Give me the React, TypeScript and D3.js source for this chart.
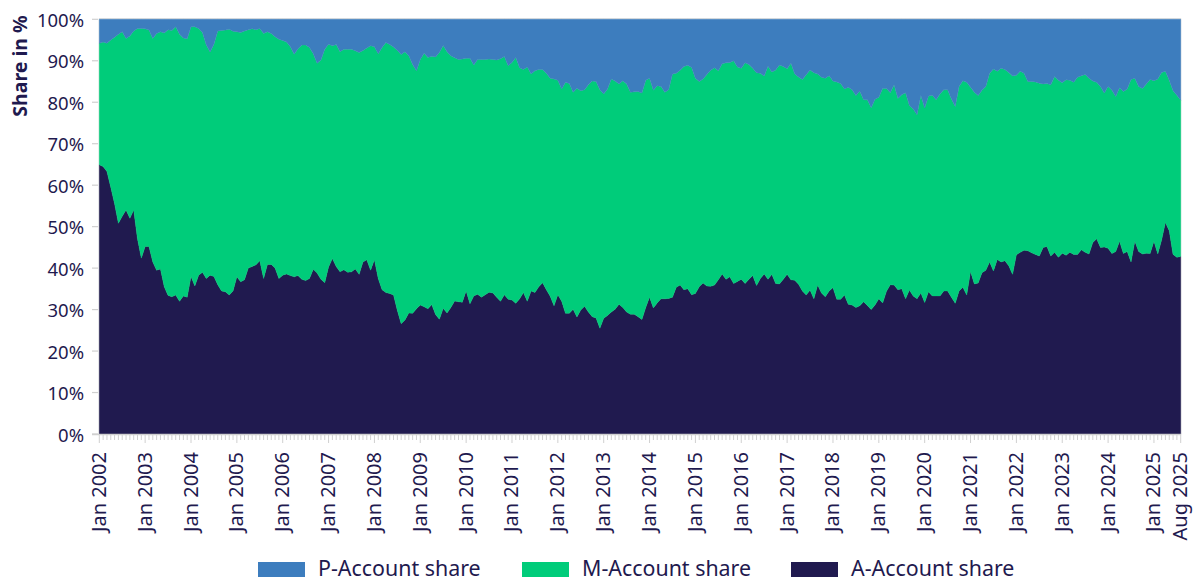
import React from 'react';
import * as d3 from 'd3';

// A-Account share (%), monthly Jan 2002 – Aug 2025
const aShare: number[] = [
  // 2002
  64.9, 64.5, 63.3, 59.5, 55.5, 50.8, 52.5, 54, 52, 54, 47, 42.4,
  // 2003
  45.2, 45.2, 41.5, 39.5, 39.8, 35.5, 33.4, 33.1, 33.5, 32, 33.3, 33,
  // 2004
  38, 35.7, 38.3, 39, 37.5, 38.3, 38, 36, 34.5, 34.3, 33.5, 34.5,
  // 2005
  37.9, 36.7, 37.2, 40, 40.4, 40.8, 41.8, 37.5, 40.9, 40.9, 40, 37.5,
  // 2006
  38.3, 38.6, 38.2, 37.9, 38.2, 37.3, 37, 37.5, 39.7, 38.8, 37.3, 36.5,
  // 2007
  40.3, 42.3, 40.4, 39.1, 39.6, 39, 39.1, 39.8, 38.5, 41.5, 42, 39.5,
  // 2008
  42, 37.5, 34.8, 34.1, 33.9, 33.5, 29.8, 26.6, 27.5, 29.2, 29.1, 30.2,
  // 2009
  31.1, 30.7, 30.2, 31.2, 28.8, 27.7, 30.3, 29.2, 30.5, 32.1, 31.9, 31.8,
  // 2010
  34.5, 31.4, 33.3, 33.7, 33, 33.6, 34.2, 34, 33, 32, 33.6, 32.5,
  // 2011
  32.3, 31.5, 32.6, 34.1, 32, 34.5, 34.1, 35.5, 36.5, 34.8, 33.2, 30.9,
  // 2012
  33.6, 32, 29.1, 29.1, 30.1, 28.2, 29.9, 30.8, 29.4, 28.3, 28, 25.5,
  // 2013
  27.9, 28.6, 29.4, 30.1, 31.3, 30.5, 29.4, 28.9, 28.9, 28.3, 27.6, 30.5,
  // 2014
  33, 30.4, 31.6, 32.6, 32.6, 32.7, 33, 35.4, 35.9, 34.8, 35, 33.6,
  // 2015
  33.9, 35.5, 36.4, 35.7, 35.6, 35.9, 37.2, 38.6, 37.3, 37.9, 36.3, 36.8,
  // 2016
  37.3, 36.3, 37.3, 38.2, 35.8, 37.5, 38.6, 37.3, 38.5, 36.3, 36.2, 37.3,
  // 2017
  38.5, 37.2, 37.1, 36.1, 34.5, 33.5, 34.7, 32.6, 35.9, 34, 33.1, 34.5,
  // 2018
  35.3, 32.5, 32.5, 33.5, 31.3, 31.1, 30.5, 30.9, 31.9, 31, 30, 31.1,
  // 2019
  32.6, 31.6, 34.4, 36, 35.9, 34.8, 35, 32.6, 34.7, 33.3, 32.6, 34,
  // 2020
  31.7, 34.3, 33.3, 33.3, 33.3, 34.5, 34.5, 33, 31.5, 34.5, 35.4, 33.5,
  // 2021
  39.2, 36.2, 36.4, 38.9, 39.5, 41.5, 39.3, 42.1, 41.5, 41.8, 40.6, 38.5,
  // 2022
  43.2, 43.8, 44.3, 44.2, 43.7, 43.3, 42.9, 45, 45.2, 42.9, 43.8, 42.6,
  // 2023
  43.6, 43.1, 43.8, 43.3, 43.3, 44.4, 43.8, 43.4, 46.2, 47.1, 45, 45.1,
  // 2024
  44.8, 43.5, 44, 46.5, 43.5, 44, 41.5, 46.5, 44, 43.4, 43.6, 43.5,
  // 2025 (Jan – Aug)
  46.5, 43.4, 46.8, 51, 49, 43.3, 42.6, 42.8,
];

// P-Account share (%), monthly Jan 2002 – Aug 2025
const pShare: number[] = [
  // 2002
  5.8, 5.5, 5.8, 5, 4.3, 3.6, 3, 4.6, 4, 2.8, 2.2, 2.2,
  // 2003
  2.3, 2.6, 4.6, 3.4, 3, 3.3, 2.5, 2.7, 1.8, 3.6, 4.5, 4.7,
  // 2004
  1.8, 1.8, 2.2, 3.2, 6.2, 7.9, 6, 2.8, 2.7, 2.6, 2.4, 2.9,
  // 2005
  3, 3.2, 2.8, 2.5, 2.3, 2.5, 2.2, 3.4, 3, 3.4, 4.2, 4.8,
  // 2006
  5.1, 5.5, 6.6, 8.4, 7.1, 6.2, 6.2, 6.8, 8.3, 10.6, 9.8, 7.2,
  // 2007
  6, 6.4, 6.1, 7.8, 7.2, 7.2, 7.2, 7.6, 8, 7.5, 6.9, 6.4,
  // 2008
  6.6, 8.3, 6.8, 5.6, 6.1, 6.7, 7.5, 8.5, 7.8, 8.8, 10.9, 12.4,
  // 2009
  9.7, 8.2, 9.2, 8.9, 9.1, 8, 6.3, 7.8, 8.8, 9.3, 9.7, 9.6,
  // 2010
  9.4, 9.4, 11, 9.7, 9.7, 9.7, 9.6, 9.7, 9.8, 9.5, 9, 11.2,
  // 2011
  10.4, 9.2, 11.7, 12.1, 11.5, 13.2, 12.4, 12.1, 12.1, 13, 14.2, 14.4,
  // 2012
  14.7, 16.8, 15.2, 15.5, 17.6, 16.6, 17.2, 17, 15.8, 14.9, 15, 17,
  // 2013
  18, 16.8, 14.4, 14.9, 15.6, 14.8, 15.6, 17.6, 17.5, 17.4, 17.8, 14.7,
  // 2014
  14.2, 17.1, 16, 16.2, 17.6, 17, 13.2, 13, 12.3, 11.4, 11.1, 11.6,
  // 2015
  14.2, 15, 14.4, 13.3, 12.3, 11.7, 12.4, 10.7, 10.5, 10.4, 10, 11.5,
  // 2016
  11.8, 10.5, 10.9, 11.8, 12.9, 13, 13.7, 11.3, 12.7, 12.2, 11, 11.4,
  // 2017
  11.9, 10.6, 13.2, 13.9, 14.5, 13.4, 12.2, 12.9, 13.2, 14, 14.2, 13.6,
  // 2018
  14.9, 15.1, 15.5, 16.8, 16.4, 17, 18.4, 17.3, 19.4, 19.4, 21.3, 19.3,
  // 2019
  18.8, 16.7, 16.7, 17.7, 15.8, 19.1, 18.2, 17.7, 20.8, 21.6, 23, 18.4,
  // 2020
  21.4, 18.5, 18.3, 19.4, 18, 17, 17, 19.2, 21, 16.2, 14.8, 15.2,
  // 2021
  16.4, 17.6, 18.4, 17.1, 16.2, 13, 12, 12.5, 11.8, 12.1, 12.8, 13.7,
  // 2022
  13.5, 12.5, 13, 15, 15, 15.1, 15.4, 15.6, 15.5, 15.8, 13.8, 14.7,
  // 2023
  15.3, 14.6, 14.7, 15.2, 14, 13.6, 13.3, 14.2, 14.9, 15.2, 16.2, 17.8,
  // 2024
  16.2, 17.1, 18.6, 16.5, 17.4, 16.8, 14.5, 14.2, 16.2, 16.7, 15.6, 14.5,
  // 2025 (Jan – Aug)
  14.8, 14.4, 12.8, 12.5, 14.7, 17.2, 18.3, 19.5,
];

// Monthly categories
const months: Date[] = d3.utcMonths(new Date(Date.UTC(2002, 0, 1)), new Date(Date.UTC(2025, 8, 1)));

const xTickLabels: string[] = [
  'Jan 2002', 'Jan 2003', 'Jan 2004', 'Jan 2005', 'Jan 2006', 'Jan 2007', 'Jan 2008',
  'Jan 2009', 'Jan 2010', 'Jan 2011', 'Jan 2012', 'Jan 2013', 'Jan 2014', 'Jan 2015',
  'Jan 2016', 'Jan 2017', 'Jan 2018', 'Jan 2019', 'Jan 2020', 'Jan 2021', 'Jan 2022',
  'Jan 2023', 'Jan 2024', 'Jan 2025', 'Aug 2025',
];
const yTicks: number[] = [0, 10, 20, 30, 40, 50, 60, 70, 80, 90, 100];

const seriesKeys = ['a', 'm', 'p'];
const seriesNames: Record<string, string> = { a: 'A-Account share', m: 'M-Account share', p: 'P-Account share' };
const seriesColors: Record<string, string> = { a: '#201a4f', m: '#00cc7a', p: '#3d7dbe' };
const legendOrder = ['p', 'm', 'a'];

const TEXT = '#1f1a4f';
const FONT = '"Noto Sans", "Open Sans", sans-serif';

export default function App() {
  const W = 1194;
  const H = 582;
  const left = 99.3;
  const right = 1180.7;
  const top = 19.3;
  const bottom = 434;

  const fmt = d3.utcFormat('%b %Y');
  const rows = months.map((d, i) => ({
    date: d,
    label: fmt(d),
    a: aShare[i],
    p: pShare[i],
    m: 100 - aShare[i] - pShare[i],
  }));

  const x = d3.scaleLinear().domain([0, rows.length - 1]).range([left, right]);
  const y = d3.scaleLinear().domain([0, 100]).range([bottom, top]);

  const stacked = d3.stack<any>().keys(seriesKeys)(rows);
  const area = d3
    .area<any>()
    .x((_d, i) => x(i))
    .y0((d) => y(d[0]))
    .y1((d) => y(d[1]));

  const labelIndex = new Map(rows.map((r, i) => [r.label, i]));
  const legendX: Record<string, number> = { p: 258, m: 522, a: 791 };

  return (
    <svg
      width={W}
      height={H}
      style={{ position: 'absolute', left: 0, top: 0, background: '#fff' }}
      fontFamily={FONT}
    >
      <rect x={left} y={top - 0.5} width={right - left} height={bottom - top + 0.5} fill="none" stroke="#d4d4d4" strokeWidth={1} />
      {stacked.map((s) => (
        <path key={s.key} d={area(s as any) || ''} fill={seriesColors[s.key]} stroke={seriesColors[s.key]} strokeWidth={0.4} />
      ))}

      {/* y axis ticks & labels */}
      {yTicks.map((t) => (
        <g key={t}>
          <line x1={92} x2={98} y1={y(t)} y2={y(t)} stroke="#d0d0d0" strokeWidth={1.2} />
          <text x={84} y={y(t)} textAnchor="end" dominantBaseline="central" fontSize={18.5} fill={TEXT}>
            {t}%
          </text>
        </g>
      ))}
      <text
        transform={`translate(19,66) rotate(-90)`}
        textAnchor="middle"
        dominantBaseline="central"
        fontSize={19.5}
        fontWeight="bold"
        fill={TEXT}
      >
        Share in %
      </text>

      {/* x axis */}
      <line x1={92} x2={right + 0.5} y1={434.5} y2={434.5} stroke="#d0d0d0" strokeWidth={1.5} />
      {rows.map((r, i) => {
        const major = r.date.getUTCMonth() === 0 || i === rows.length - 1;
        return (
          <line
            key={i}
            x1={x(i)}
            x2={x(i)}
            y1={435}
            y2={major ? 443 : 440}
            stroke="#d0d0d0"
            strokeWidth={1}
          />
        );
      })}
      {xTickLabels.map((lab) => {
        const i = labelIndex.get(lab) ?? 0;
        return (
          <text
            key={lab}
            transform={`translate(${x(i) - 1},452) rotate(-90)`}
            textAnchor="end"
            dominantBaseline="central"
            fontSize={20}
            fill={TEXT}
          >
            {lab}
          </text>
        );
      })}

      {/* legend */}
      {legendOrder.map((k) => (
        <g key={k}>
          <rect x={legendX[k]} y={562} width={47} height={15} fill={seriesColors[k]} />
          <text x={legendX[k] + 60} y={567} dominantBaseline="central" fontSize={21.4} fill={TEXT}>
            {seriesNames[k]}
          </text>
        </g>
      ))}
    </svg>
  );
}
